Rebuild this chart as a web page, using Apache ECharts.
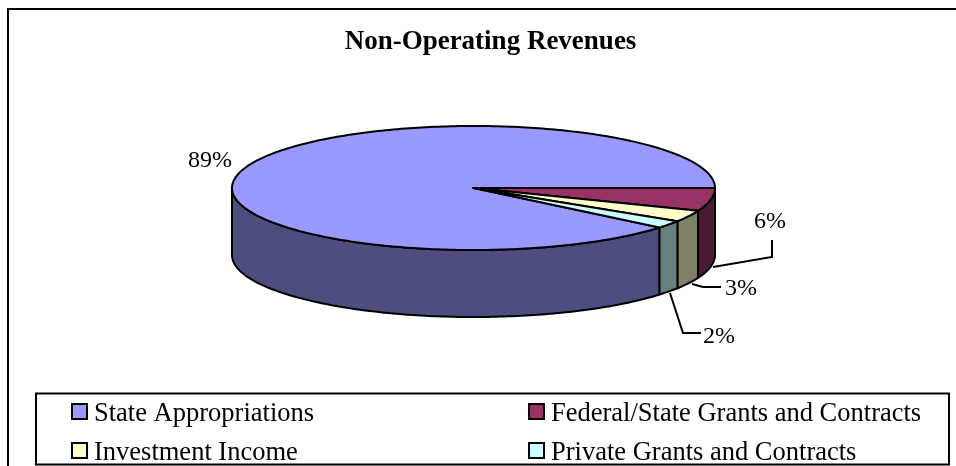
<!DOCTYPE html>
<html>
<head>
<meta charset="utf-8">
<style>
  html, body { margin: 0; padding: 0; background: #fff; }
  #chart { width: 956px; height: 466px; }
</style>
<script src="https://cdn.jsdelivr.net/npm/echarts@6/dist/echarts.min.js"></script>
</head>
<body>
<div id="chart"></div>
<script>
// data
const categories = ["State Appropriations", "Federal/State Grants and Contracts", "Investment Income", "Private Grants and Contracts"];
const shares = [89, 6, 3, 2];
const topColors = ["#9999ff", "#993366", "#ffffcc", "#ccffff"];
const sideColors = ["#4d4d80", "#4d1a33", "#808066", "#668080"];

// pie geometry in pixels
const cx = 473.5, cy = 188, rx = 241.5, ry = 62, depth = 67;
const firstSliceDeg = 39.6; // state slice starts here, clockwise from east
const FONT = '"Liberation Serif", "Times New Roman", serif';

// label text position and leader line for each slice
const labelLayout = [
  { x: 210, y: 161, line: null },
  { x: 770, y: 222, line: [[713, 267], [772, 257], [772, 240]] },
  { x: 741, y: 289, line: [[692, 284], [703, 287], [721, 287]] },
  { x: 719, y: 337, line: [[670, 293], [683, 333], [701, 333]] }
];

const total = shares.reduce((a, b) => a + b, 0);

function rimPoint(deg, dy) {
  const r = deg * Math.PI / 180;
  return [cx + rx * Math.cos(r), cy + ry * Math.sin(r) + dy];
}

function arc(from, to, dy) {
  const pts = [];
  for (let d = from; d < to; d += 1) pts.push(rimPoint(d, dy));
  pts.push(rimPoint(to, dy));
  return pts;
}

function sliceRange(idx) {
  let start = firstSliceDeg;
  for (let i = 0; i < idx; i++) start += shares[i] / total * 360;
  return [start, start + shares[idx] / total * 360];
}

function renderSlice(idx, api) {
  const [start, end] = sliceRange(idx);
  const edge = { stroke: "#000", lineWidth: 2, lineJoin: "round" };
  const children = [];

  // visible wall is only the front half, 0 to 180 (and 360 to 540 once wrapped)
  const walls = [[start, Math.min(end, 180)], [Math.max(start, 360), Math.min(end, 540)]];
  walls.forEach(([a, b]) => {
    if (b <= a) return;
    const pts = arc(a, b, 0).concat(arc(a, b, depth).reverse());
    children.push({
      type: "polygon",
      shape: { points: pts },
      style: Object.assign({ fill: sideColors[idx] }, edge)
    });
  });

  children.push({
    type: "polygon",
    shape: { points: [[cx, cy]].concat(arc(start, end, 0)) },
    style: Object.assign({ fill: topColors[idx] }, edge)
  });

  const lab = labelLayout[idx];
  if (lab.line) {
    children.push({
      type: "polyline",
      shape: { points: lab.line },
      style: { stroke: "#000", lineWidth: 2, fill: null }
    });
  }
  children.push({
    type: "text",
    x: lab.x,
    y: lab.y,
    style: {
      text: Math.round(api.value(0) / total * 100) + "%",
      fill: "#000",
      font: "24px " + FONT,
      align: "center",
      verticalAlign: "middle"
    }
  });
  return { type: "group", children: children };
}

const legendBase = {
  orient: "vertical",
  icon: "rect",
  itemWidth: 15,
  itemHeight: 15,
  itemGap: 6,
  height: 100, // roomy so the two rows do not wrap into columns
  selectedMode: false,
  padding: 0,
  itemStyle: { borderColor: "#000", borderWidth: 2 },
  formatter: name => "{t|" + name + "}",
  textStyle: {
    rich: {
      // extra top padding drops the words a little below the swatch centre
      t: { fontFamily: FONT, fontSize: 26.5, color: "#000", lineHeight: 24, padding: [6, 0, 0, 2] }
    }
  }
};

const chart = echarts.init(document.getElementById("chart"), null, { renderer: "canvas" });
chart.setOption({
  animation: false,
  backgroundColor: "#fff",
  title: {
    text: "Non-Operating Revenues",
    left: 485.5,
    top: 24,
    textAlign: "center",
    textStyle: { fontFamily: FONT, fontSize: 27, fontWeight: "bold", color: "#000" }
  },
  legend: [
    Object.assign({}, legendBase, { left: 71, top: 395, data: [categories[0], categories[2]] }),
    Object.assign({}, legendBase, { left: 528, top: 395, data: [categories[1], categories[3]] })
  ],
  graphic: [
    { type: "polyline", silent: true, shape: { points: [[8, 466], [8, 9], [956, 9]] }, style: { stroke: "#000", lineWidth: 2, fill: null } },
    { type: "rect", silent: true, shape: { x: 36, y: 393.5, width: 913, height: 71 }, style: { stroke: "#000", lineWidth: 2, fill: null } }
  ],
  series: categories.map((name, idx) => ({
    type: "custom",
    name: name,
    coordinateSystem: "none",
    itemStyle: { color: topColors[idx] },
    data: [shares[idx]],
    renderItem: (params, api) => renderSlice(idx, api)
  }))
});
window.addEventListener("resize", () => chart.resize());
</script>
</body>
</html>
